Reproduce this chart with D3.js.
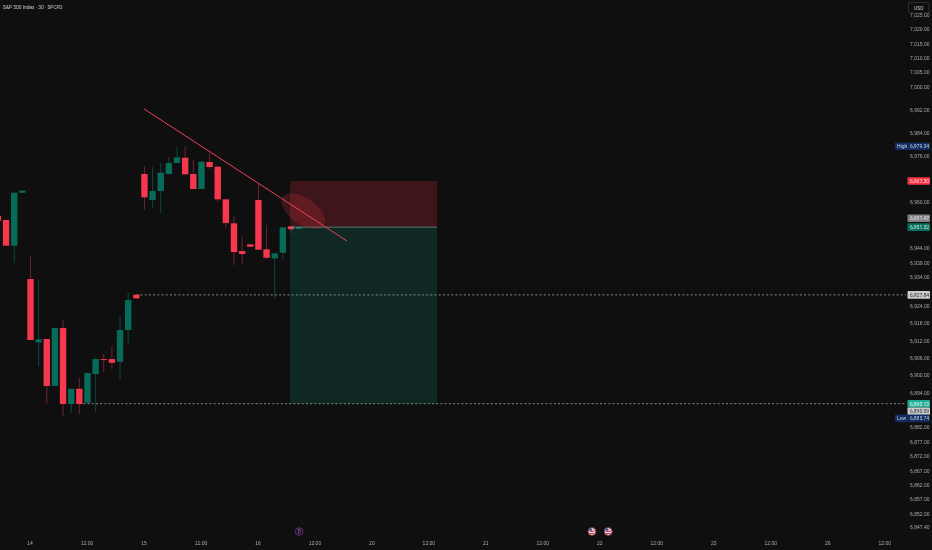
<!DOCTYPE html>
<html>
<head>
<meta charset="utf-8">
<script src="https://cdn.jsdelivr.net/npm/d3@7"></script>
<style>
  html, body { margin: 0; padding: 0; background: #0f0f0f; }
  svg { display: block; font-family: Roboto, sans-serif; filter: blur(0.3px); }
  .domain { display: none; }
  .tick line { display: none; }
  .tick text { fill: #a9acb4; font-size: 5px; }
</style>
</head>
<body>
<script>
// [bar index, open, high, low, close], bar 0 = first 30 min bar of the 14th
const bars = [
  [-4, 6955.18, 6955.18, 6953.55, 6953.55],
  [-3, 6953.79, 6953.79, 6944.89, 6944.89],
  [-2, 6944.89, 6963.25, 6938.89, 6963.25],
  [-1, 6963.25, 6964.2, 6963.2, 6963.95],
  [0, 6933.34, 6941.32, 6912.2, 6912.2],
  [1, 6911.4, 6933, 6903.2, 6912.45],
  [2, 6912.55, 6912.55, 6890.0, 6896.26],
  [3, 6896.26, 6916.36, 6896.26, 6916.36],
  [4, 6916.36, 6919.1, 6885.74, 6890.0],
  [5, 6890.0, 6895.3, 6886.9, 6895.3],
  [6, 6895.3, 6899.0, 6886.55, 6890.0],
  [7, 6890.47, 6900.76, 6890.47, 6900.76],
  [8, 6900.41, 6906.3, 6887.35, 6905.6],
  [9, 6905.6, 6907.35, 6901.1, 6905.27],
  [10, 6905.6, 6910.1, 6902.15, 6904.3],
  [11, 6904.68, 6920.5, 6898.3, 6915.67],
  [12, 6915.67, 6928.6, 6911.16, 6926.06],
  [13, 6927.9, 6927.9, 6926.65, 6926.65],
  [14, 6969.74, 6972.5, 6957.26, 6961.66],
  [15, 6960.73, 6972.16, 6957.95, 6963.85],
  [16, 6963.85, 6973.55, 6956.22, 6970.19],
  [17, 6969.74, 6975.63, 6969.74, 6973.55],
  [18, 6973.55, 6979.1, 6973.55, 6975.53],
  [19, 6975.39, 6979.34, 6969.63, 6969.63],
  [20, 6969.74, 6974.59, 6964.54, 6964.54],
  [21, 6964.54, 6974.0, 6964.54, 6974.0],
  [22, 6973.9, 6977.12, 6971.47, 6972.16],
  [23, 6972.27, 6972.5, 6960.14, 6960.97],
  [24, 6960.97, 6960.97, 6951.0, 6952.75],
  [25, 6952.65, 6955.18, 6938.2, 6942.7],
  [26, 6943.05, 6947.9, 6938.54, 6942.01],
  [27, 6945.37, 6945.37, 6944.54, 6944.54],
  [28, 6960.73, 6966.5, 6943.5, 6943.5],
  [29, 6943.64, 6952.06, 6940.27, 6940.72],
  [30, 6940.52, 6942.25, 6926.76, 6942.25],
  [31, 6942.46, 6951.26, 6940.27, 6951.26],
  [32, 6951.61, 6951.7, 6949.3, 6950.57],
  [33, 6950.7, 6951.6, 6950.6, 6951.47]
];

const priceTicks = [7025, 7020, 7015, 7010, 7005, 7000, 6992, 6984, 6976, 6960, 6944, 6939, 6934, 6924,
                    6918, 6912, 6906, 6900, 6894, 6882, 6877, 6872, 6867, 6862, 6857, 6852, 6847.4];
const timeTicks = [0, 7, 14, 21, 28, 35, 42, 49, 56, 63, 70, 77, 84, 91, 98, 105];
const timeLabels = ['14', '12:00', '15', '12:00', '16', '12:00', '20', '12:00', '21', '12:00', '22', '12:00', '23', '12:00', '26', '12:00'];

const stopPrice = 6967.30,
      entryPrice = 6951.32,
      targetPrice = 6890.13,
      boxStart = 31.9,
      boxEnd = 49.95;

const trendBars = [13.95, 38.9],
      trendPrices = [6992.3, 6946.5];

const levelPrices = [6927.84, 6890.13],
      levelStarts = [13, 6.5];

// price tags on the axis, some get pushed away from their real price by the neighbours
const tagLabels = ['High', '', '', '', '', '', '', 'Low'];
const tagPrices = [6979.34, 6967.30, 6951.47, 6951.32, 6927.84, 6890.13, 6890.09, 6885.74];
const tagFills = ['#132d5c', '#f23645', '#7f8185', '#0a6f5c', '#c9cbce', '#22ab94', '#c9cbce', '#132d5c'];
const tagText = ['#c3d0ea', '#ffd7db', '#e8e8e8', '#d5f2ea', '#2b2b2b', '#e8fff8', '#333', '#c3d0ea'];
const tagShift = [0, 0, -8.5, 0, 0, 0, 7.5, 2];

const width = 932,
      height = 550,
      axisX = 906;

const x = d3.scaleLinear().domain([0, 100]).range([30.5, 844.5]),
      y = d3.scaleLinear().domain([7020, 6847.4]).range([29, 527]);

const svg = d3.select('body').append('svg')
              .attr('width', width)
              .attr('height', height);

svg.append('rect')
   .attr('width', width)
   .attr('height', height)
   .attr('fill', '#0f0f0f');

// title
svg.append('text')
   .attr('x', 3)
   .attr('y', 8.8)
   .attr('fill', '#c8cad0')
   .style('font-size', '4.9px')
   .text('S&P 500 Index · 30 · SPCFD');

// levels
levelPrices.forEach(function(p, i) {
  svg.append('line')
     .attr('x1', x(levelStarts[i]))
     .attr('x2', axisX)
     .attr('y1', y(p))
     .attr('y2', y(p))
     .attr('stroke', '#a8aaae')
     .attr('stroke-width', 0.8)
     .attr('stroke-dasharray', '2 2.2');
});

// candles
const candle = svg.append('g').selectAll('g')
                  .data(bars)
                  .enter()
                  .append('g');

candle.append('line')
      .attr('x1', function(d) { return x(d[0]); })
      .attr('x2', function(d) { return x(d[0]); })
      .attr('y1', function(d) { return y(d[2]); })
      .attr('y2', function(d) { return y(d[3]); })
      .attr('stroke', function(d) { return d[4] >= d[1] ? '#0b4a3f' : '#6e2530'; })
      .attr('stroke-width', 1);

candle.append('rect')
      .attr('x', function(d) { return x(d[0]) - 3.2; })
      .attr('width', 6.4)
      .attr('y', function(d) { return y(Math.max(d[1], d[4])); })
      .attr('height', function(d) { return Math.max(1, Math.abs(y(d[1]) - y(d[4]))); })
      .attr('fill', function(d) { return d[4] >= d[1] ? '#076b59' : '#f5384e'; });

// short position box
svg.append('rect')
   .attr('x', x(boxStart))
   .attr('width', x(boxEnd) - x(boxStart))
   .attr('y', y(stopPrice))
   .attr('height', y(entryPrice) - y(stopPrice))
   .attr('rx', 1.5)
   .attr('fill', '#f23645')
   .attr('fill-opacity', 0.21);

svg.append('rect')
   .attr('x', x(boxStart))
   .attr('width', x(boxEnd) - x(boxStart))
   .attr('y', y(entryPrice))
   .attr('height', y(targetPrice) - y(entryPrice))
   .attr('fill', '#12a88c')
   .attr('fill-opacity', 0.17);

svg.append('line')
   .attr('x1', x(boxStart))
   .attr('x2', x(boxEnd))
   .attr('y1', y(entryPrice))
   .attr('y2', y(entryPrice))
   .attr('stroke', '#5f8f85')
   .attr('stroke-width', 0.8);

// highlight where the trend line meets the box
svg.append('ellipse')
   .attr('cx', 0)
   .attr('cy', 0)
   .attr('rx', 25)
   .attr('ry', 13)
   .attr('transform', 'translate(' + x(33.5) + ',' + y(6956.9) + ') rotate(35)')
   .attr('fill', '#f23645')
   .attr('fill-opacity', 0.2);

svg.append('line')
   .attr('x1', x(trendBars[0]))
   .attr('x2', x(trendBars[1]))
   .attr('y1', y(trendPrices[0]))
   .attr('y2', y(trendPrices[1]))
   .attr('stroke', '#f0405a')
   .attr('stroke-width', 1);

// axes
svg.append('g')
   .attr('transform', 'translate(' + axisX + ',0)')
   .call(d3.axisRight(y).tickValues(priceTicks).tickFormat(d3.format(',.2f')).tickSize(0).tickPadding(4));

svg.append('g')
   .attr('transform', 'translate(-1,538)')
   .call(d3.axisBottom(x).tickValues(timeTicks).tickFormat(function(d, i) { return timeLabels[i]; }).tickSize(0).tickPadding(3));

// price tags
tagPrices.forEach(function(p, i) {
  const cy = y(p) + tagShift[i],
        left = tagLabels[i] ? 895 : 907.5,
        g = svg.append('g');
  g.append('rect')
   .attr('x', left)
   .attr('y', cy - 3.8)
   .attr('width', 930 - left)
   .attr('height', 7.6)
   .attr('rx', 0.8)
   .attr('fill', tagFills[i]);
  g.append('text')
   .attr('x', 910)
   .attr('y', cy + 1.8)
   .attr('fill', tagText[i])
   .style('font-size', '5px')
   .text(d3.format(',.2f')(p));
  if (tagLabels[i]) {
    g.append('text')
     .attr('x', 897)
     .attr('y', cy + 1.8)
     .attr('fill', tagText[i])
     .style('font-size', '5px')
     .text(tagLabels[i]);
  }
});

// currency button
svg.append('rect')
   .attr('x', 908.5)
   .attr('y', 2.5)
   .attr('width', 20.5)
   .attr('height', 10.5)
   .attr('rx', 1.5)
   .attr('fill', '#0f0f0f')
   .attr('stroke', '#3a3c40')
   .attr('stroke-width', 0.7);

svg.append('text')
   .attr('x', 918.7)
   .attr('y', 9.8)
   .attr('text-anchor', 'middle')
   .attr('fill', '#c8cad0')
   .style('font-size', '5px')
   .text('USD');

// event markers along the bottom
svg.append('circle')
   .attr('cx', x(33))
   .attr('cy', 531.5)
   .attr('r', 3.8)
   .attr('fill', '#141018')
   .attr('stroke', '#7b2f9e')
   .attr('stroke-width', 0.8);

svg.append('text')
   .attr('x', x(33))
   .attr('y', 533.3)
   .attr('text-anchor', 'middle')
   .attr('fill', '#8d5aa8')
   .style('font-size', '5px')
   .text('₿');

[69, 71].forEach(function(i) {
  const fx = x(i) - 0.2,
        g = svg.append('g');
  g.append('circle')
   .attr('cx', fx)
   .attr('cy', 531.5)
   .attr('r', 4)
   .attr('fill', '#d8dbe6')
   .attr('stroke', '#7a2028')
   .attr('stroke-width', 1);
  g.append('rect')
   .attr('x', fx - 2.6)
   .attr('y', 530.6)
   .attr('width', 5.2)
   .attr('height', 1.2)
   .attr('fill', '#d8394a');
  g.append('rect')
   .attr('x', fx - 2.2)
   .attr('y', 533)
   .attr('width', 4.4)
   .attr('height', 1)
   .attr('fill', '#d8394a');
  g.append('rect')
   .attr('x', fx - 2.6)
   .attr('y', 528.6)
   .attr('width', 2.6)
   .attr('height', 2)
   .attr('fill', '#2f4f9e');
});
</script>
</body>
</html>
